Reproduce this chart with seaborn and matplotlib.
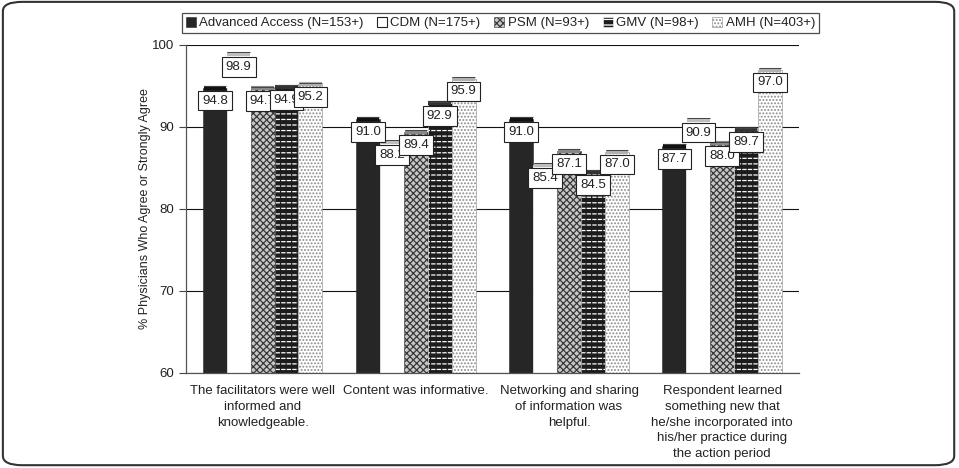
import matplotlib.pyplot as plt
import numpy as np
import pandas as pd
import seaborn as sns
from matplotlib.patches import FancyBboxPatch, Rectangle

# data
categories = ["The facilitators were well\ninformed and\nknowledgeable.",
              "Content was informative.",
              "Networking and sharing\nof information was\nhelpful.",
              "Respondent learned\nsomething new that\nhe/she incorporated into\nhis/her practice during\nthe action period"]
series = ["Advanced Access (N=153+)", "CDM (N=175+)", "PSM (N=93+)", "GMV (N=98+)", "AMH (N=403+)"]
advanced_access = [94.8, 91.0, 91.0, 87.7]
cdm = [98.9, 88.2, 85.4, 90.9]
psm = [94.7, 89.4, 87.1, 88.0]
gmv = [94.9, 92.9, 84.5, 89.7]
amh = [95.2, 95.9, 87.0, 97.0]

faces = ["#262626", "#ffffff", "#c8c8c8", "#1c1c1c", "#ffffff"]
hatches = [None, None, "xxxxx", "---", "....."]
hatch_cols = ["#262626", "#ffffff", "#3a3a3a", "#ffffff", "#8a8a8a"]
cap_cols = ["#111111", "#bdbdbd", "#888888", "#333333", "#b0b0b0"]

sns.set_theme(style="white")
plt.rcParams['font.family'] = ['Liberation Sans', 'DejaVu Sans']
plt.rcParams['hatch.linewidth'] = 0.9
txt = "#222222"
fs = 9.5

vals = [advanced_access, cdm, psm, gmv, amh]
rows = []
for s, v in zip(series, vals):
    for c, y in zip(categories, v):
        rows.append({"Kategoria": c, "Seria": s, "Wartosc": y})
df = pd.DataFrame(rows)

fig = plt.figure(figsize=(9.59, 4.68), dpi=100)
ax = fig.add_axes([0.194, 0.203, 0.639, 0.701])

sns.barplot(data=df, x="Kategoria", y="Wartosc", hue="Seria", hue_order=series,
            palette=faces, width=0.78, gap=0, legend=False, ax=ax, zorder=2)

for i, cont in enumerate(ax.containers):
    for bar in cont.patches:
        bar.set_facecolor(faces[i])
        if hatches[i]:
            bar.set_hatch(hatches[i])
        bar.set_edgecolor(hatch_cols[i])
        bar.set_linewidth(0.4)
        x0, w, h = bar.get_x(), bar.get_width(), bar.get_height()
        if i == 3:
            # break the white stripes into short dashes
            ax.add_patch(Rectangle((x0, 60), w, h - 60, fill=False, hatch="|||",
                                   edgecolor="#1c1c1c", lw=0, zorder=2.5))
        ax.hlines(h, x0 + 0.004, x0 + w - 0.004, color=cap_cols[i], lw=3, zorder=3)
        ax.hlines(h + 0.2, x0 + 0.004, x0 + w - 0.004, color="#444444", lw=0.7, zorder=3)

# value boxes, drawn in series order so later ones sit on top
z = 10
for i, cont in enumerate(ax.containers):
    for bar, v in zip(cont.patches, vals[i]):
        ax.annotate(f"{v:.1f}", (bar.get_x() + bar.get_width() / 2, bar.get_height()),
                    xytext=(0, -5), textcoords="offset points", ha="center", va="top",
                    fontsize=fs, color=txt, zorder=z,
                    bbox=dict(boxstyle="square,pad=0.3", fc="white", ec="#222222", lw=0.8))
        z += 1

ax.set_ylim(60, 100)
ax.set_xlim(-0.5, 3.5)
ax.set_yticks([60, 70, 80, 90, 100])
ax.yaxis.grid(True, color="#111111", lw=0.8)
ax.set_axisbelow(True)
ax.set_xticks(range(4))
ax.set_xticklabels(categories, fontsize=fs, color=txt, linespacing=1.4)
ax.set_xticks(np.arange(-0.5, 4, 1), minor=True)
ax.tick_params(axis="x", which="major", length=0, pad=9)
ax.tick_params(axis="x", which="minor", length=5, color="#444444", width=0.8, direction="out")
ax.tick_params(axis="y", length=5, color="#444444", width=0.8, direction="out", labelsize=fs, labelcolor=txt, left=True)
ax.set_xlabel("")
ax.set_ylabel("% Physicians Who Agree or Strongly Agree", fontsize=9, color=txt, labelpad=1)
for sp in ["top", "right"]:
    ax.spines[sp].set_visible(False)
for sp in ["left", "bottom"]:
    ax.spines[sp].set_color("#555555")
    ax.spines[sp].set_linewidth(0.9)

leg = ax.legend(ax.containers, series, loc="lower center", bbox_to_anchor=(0.513, 1.035), ncol=5,
                fontsize=fs, frameon=True, fancybox=False, edgecolor="#222222",
                handlelength=0.75, handleheight=0.75, handletextpad=0.25, columnspacing=1.05,
                borderpad=0.3, borderaxespad=0)
leg.get_frame().set_linewidth(0.9)
for t in leg.get_texts():
    t.set_color(txt)
for i, hnd in enumerate(leg.legend_handles):
    hnd.set_edgecolor("#222222" if i == 1 else hatch_cols[i])
    hnd.set_linewidth(0.8 if i == 1 else 0.4)

fig.patches.append(FancyBboxPatch((0.003, 0.006), 0.992, 0.99, boxstyle="round,pad=0,rounding_size=0.02",
                                  transform=fig.transFigure, fill=False, ec="#333333", lw=1.5))

fig.savefig("out.png", dpi=100)
